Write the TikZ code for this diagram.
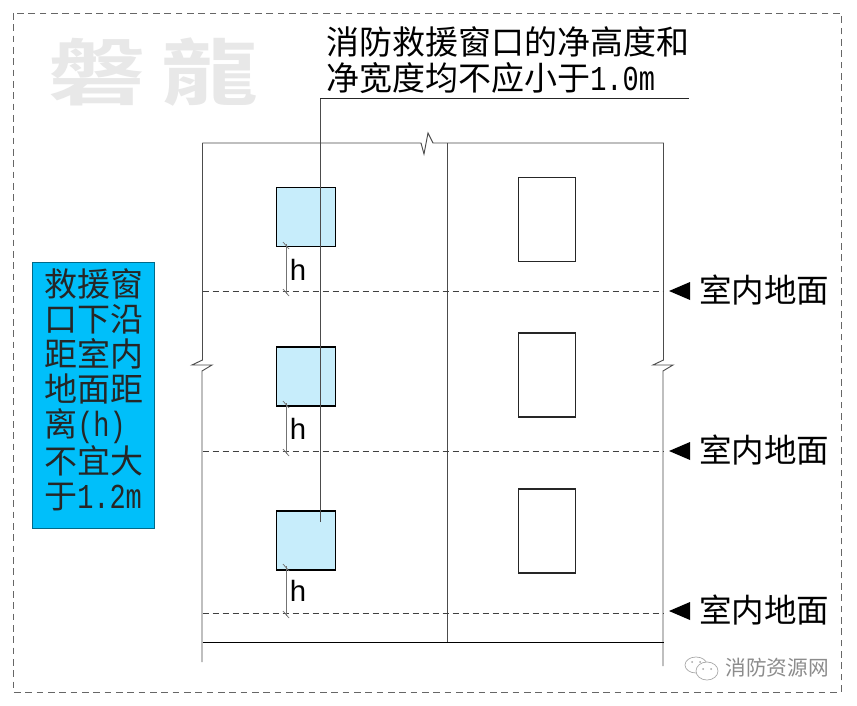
\documentclass[tikz,border=0pt]{standalone}
\usepackage{fontspec}
\usetikzlibrary{positioning}
\newfontfamily\cjk{Noto Sans CJK SC}
\newfontfamily\cjktc[FakeStretch=1.35]{Noto Sans CJK TC Bold}
\newfontfamily\latn[Scale=1.06,FakeStretch=0.77]{Liberation Mono}
\newfontfamily\hfont{Liberation Sans}
\definecolor{panelblue}{RGB}{0,191,250}

\begin{document}
\begin{tikzpicture}[
    x=0.75pt, y=-0.75pt,
    wall/.style={draw=black!70, line width=0.7pt},
    floorline/.style={draw=black!75, line width=0.55pt, dash pattern=on 4.5pt off 3pt},
    frameline/.style={draw=black!60, line width=0.6pt, dash pattern=on 5pt off 3.5pt},
    rescuewin/.style={rectangle, draw=black, fill=cyan!22!white, line width=1.1pt, minimum width=44.25pt, minimum height=44.25pt, inner sep=0pt},
    plainwin/.style={rectangle, draw=black!85, fill=white, line width=1.1pt, minimum width=42.75pt, inner sep=0pt},
    floorlabel/.style={font=\cjk\fontsize{24.4pt}{26pt}\selectfont, inner sep=0pt},
    floortip/.style={fill=black, draw=none},
    dimline/.style={draw=black!55, line width=0.55pt},
    hlabel/.style={font=\hfont\fontsize{22pt}{24pt}\selectfont, inner sep=0pt}
    ]
        \useasboundingbox (0,0) rectangle (857,706);
        \fill[white] (0,0) rectangle (857,706);

        %Frame and watermarks
        \draw[frameline] (13,13) rectangle (841,692);
        \node[font=\cjktc\fontsize{54pt}{56pt}\selectfont, text=black!9, inner sep=0pt]
            (mark) at (154,72) {磐\hspace{12pt}龍};
        \node[font=\cjk\fontsize{15.5pt}{17pt}\selectfont, text=black!45, inner sep=0pt]
            (source) at (777,668) {消防资源网};
        \draw[draw=black!35, line width=0.5pt]
            (696,665) ellipse [x radius=11, y radius=8];
        \draw[draw=black!35, fill=white, line width=0.5pt]
            (707,671) ellipse [x radius=11, y radius=9];
        \fill[black!35] (692,662) circle [radius=1];
        \fill[black!35] (700,662) circle [radius=1];
        \fill[black!35] (703,669) circle [radius=1];
        \fill[black!35] (711,669) circle [radius=1];

        %Building coordinates
        \coordinate (tl) at (202.5,143);
        \coordinate (tr) at (663.5,143);
        \coordinate (tm) at (447,143);
        \coordinate (bl) at (202.5,642.5);
        \coordinate (bm) at (447,642.5);
        \coordinate (br) at (663.5,642.5);
        \coordinate (fa) at (202.5,291);
        \coordinate (fb) at (202.5,451);
        \coordinate (fc) at (202.5,613.5);
        \coordinate (ga) at (663.5,291);
        \coordinate (gb) at (663.5,451);
        \coordinate (gc) at (663.5,613.5);

        %Walls with break marks
        \draw[wall] (tl) -- (421,143) -- (424,154) -- (428,133) -- (433,143) -- (tr);
        \draw[wall] (tl) -- (202.5,360) -- (192,365) -- (212,365) -- (202,371) -- (202,662);
        \draw[wall] (tr) -- (663.5,360) -- (653,365) -- (673,365) -- (663,371) -- (663,666);
        \draw[wall] (tm) -- (bm);
        \draw[draw=black, line width=1.4pt] (bl) -- (br);

        %Floors
        \draw[floorline] (fa) -- (ga);
        \draw[floorline] (fb) -- (gb);
        \draw[floorline] (fc) -- (gc);

        %Windows
        \node[rescuewin] (wa) at (306,217) {};
        \node[rescuewin] (wb) at (306,376.5) {};
        \node[rescuewin] (wc) at (306,540.5) {};
        \node[plainwin, minimum height=63pt] (pa) at (547,219.5) {};
        \node[plainwin, minimum height=63pt] (pb) at (547,375) {};
        \node[plainwin, minimum height=63pt] (pc) at (547,531) {};

        %Leader
        \coordinate (leadend) at (320,522);
        \coordinate (leadtop) at (320,98);
        \coordinate (leadright) at (689,98);
        \draw[draw=black!70, line width=0.7pt] (leadend) -- (leadtop);
        \draw[draw=black!85, line width=0.6pt] (leadtop) -- (leadright);
        \node[font=\cjk\fontsize{24.75pt}{27pt}\selectfont, align=left, inner sep=0pt, anchor=south west]
            (note) at (326,94) {消防救援窗口的净高度和\\净宽度均不应小于{\latn 1.0m}};

        %Heights
        \draw[dimline] (286,244) -- (286,294);
        \draw[dimline] (283,242) -- (289,249);
        \draw[dimline] (283,289) -- (289,296);
        \node[hlabel] (ha) [anchor=west] at (289.5,270) {h};
        \draw[dimline] (286,403) -- (286,454);
        \draw[dimline] (283,401) -- (289,408);
        \draw[dimline] (283,449) -- (289,456);
        \node[hlabel] (hb) [anchor=west] at (289.5,429) {h};
        \draw[dimline] (286,566) -- (286,616);
        \draw[dimline] (283,564) -- (289,571);
        \draw[dimline] (283,611) -- (289,618);
        \node[hlabel] (hc) [anchor=west] at (289.5,591) {h};

        %Floor labels
        \node[floorlabel, anchor=west] (la) at (699,290) {室内地面};
        \node[floorlabel] (lb) [below=120pt of la.center, anchor=center] {室内地面};
        \node[floorlabel] (lc) [below=240pt of la.center, anchor=center] {室内地面};
        \fill[floortip] (669,291) -- (690,282) -- (690,300) -- cycle;
        \fill[floortip] (669,451) -- (690,442) -- (690,460) -- cycle;
        \fill[floortip] (669,611) -- (690,602) -- (690,620) -- cycle;

        %Blue panel
        \node[rectangle, draw=black!45!panelblue, fill=panelblue, line width=0.7pt, minimum width=91.5pt, minimum height=199.5pt, inner sep=0pt]
            (panel) at (93,395) {};
        \node[font=\cjk\fontsize{24.75pt}{26.25pt}\selectfont, align=left, inner sep=0pt, anchor=west, text=black!85]
            (paneltext) at (44,390) {救援窗\\口下沿\\距室内\\地面距\\离{\latn (h)}\\不宜大\\于{\latn 1.2m}};
    \end{tikzpicture}
\end{document}
